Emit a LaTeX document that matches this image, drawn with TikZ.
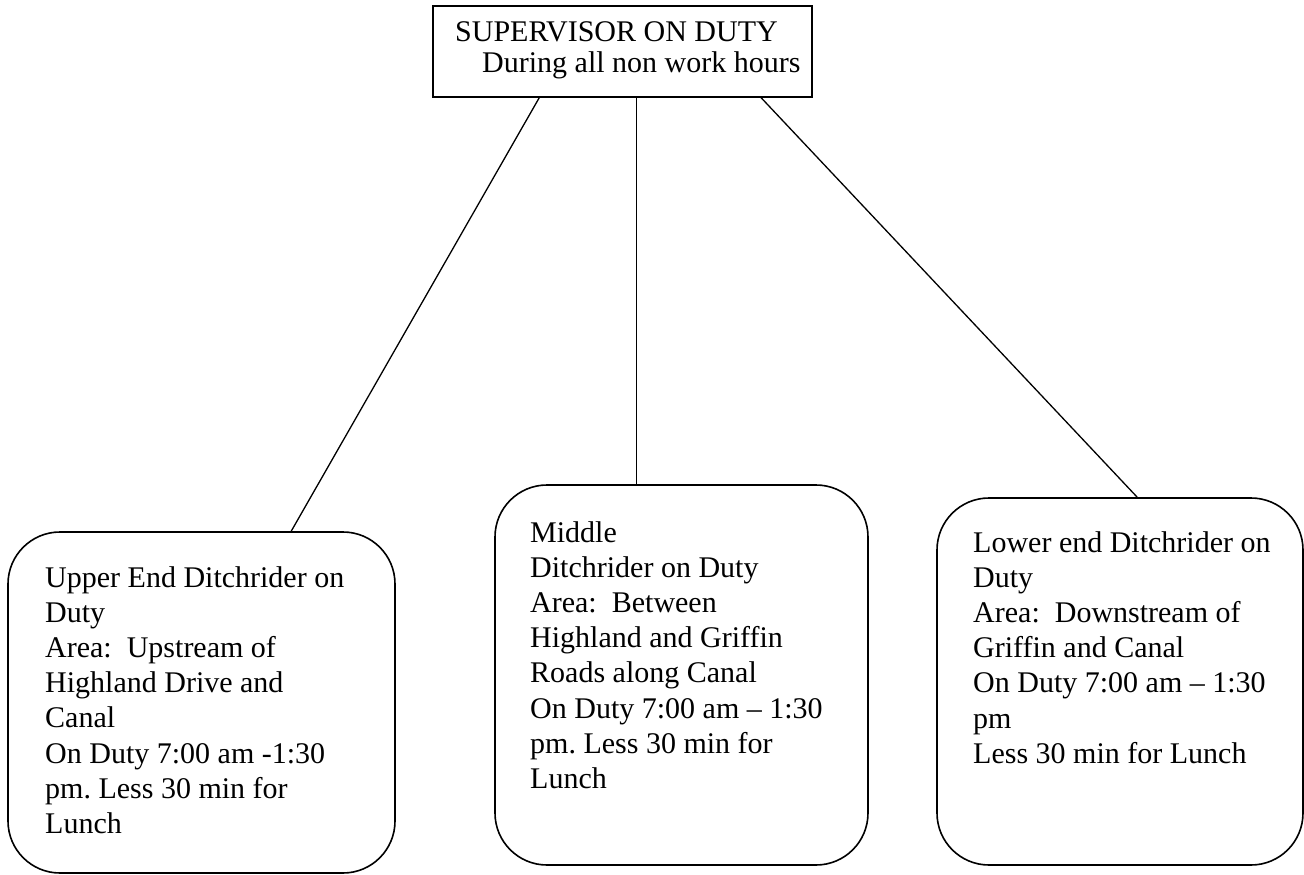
\documentclass[tikz,border=0pt]{standalone}
\usepackage{fontspec}
\setmainfont{Liberation Serif}
\usetikzlibrary{calc}
\frenchspacing
\begin{document}
\begin{tikzpicture}[x=1pt,y=-1pt,
  boxline/.style={draw=black, line width=1.6pt, inner sep=0pt, fill=none},
  roundbox/.style={boxline, rounded corners=52pt},
  conn/.style={draw=black, line width=1.3pt},
  txt/.style={anchor=base west, inner sep=0pt, font=\fontsize{30}{35.2}\selectfont}]
\useasboundingbox (0,0) rectangle (1304,875);
\fill[white] (0,0) rectangle (1304,875);
% boxes
\node[boxline, rectangle, minimum width=379pt, minimum height=91pt] (top) at (622.5,51.5) {};
\node[roundbox, rectangle, minimum width=387pt, minimum height=341pt] (left) at (201.5,702.5) {};
\node[roundbox, rectangle, minimum width=373pt, minimum height=380pt] (mid) at (681.5,675) {};
\node[roundbox, rectangle, minimum width=366pt, minimum height=367pt] (right) at (1120,681.5) {};
% texts
\node[txt, font=\fontsize{30}{31}\selectfont] (toptxt) at (455,42) {\begin{tabular}[t]{@{}l@{}}SUPERVISOR ON DUTY\\\hspace{27pt}During all non work hours\end{tabular}};
\node[txt] (lefttxt) at (45,587) {\begin{tabular}[t]{@{}l@{}}Upper End Ditchrider on\\Duty\\Area:\ \ Upstream of\\Highland Drive and\\Canal\\On Duty 7:00 am -1:30\\pm. Less 30 min for\\Lunch\end{tabular}};
\node[txt] (midtxt) at (530,542) {\begin{tabular}[t]{@{}l@{}}Middle\\Ditchrider on Duty\\Area:\ \ Between\\Highland and Griffin\\Roads along Canal\\On Duty 7:00 am – 1:30\\pm. Less 30 min for\\Lunch\end{tabular}};
\node[txt] (righttxt) at (973,552) {\begin{tabular}[t]{@{}l@{}}Lower end Ditchrider on\\Duty\\Area:\ \ Downstream of\\Griffin and Canal\\On Duty 7:00 am – 1:30\\pm\\Less 30 min for Lunch\end{tabular}};
% connectors
\draw[conn] ($(top.south west)+(107,0)$) -- ($(left.north west)+(284,0)$);
\draw[conn] ($(top.south west)+(204,0)$) -- ($(mid.north west)+(142,0)$);
\draw[conn] ($(top.south west)+(329,0)$) -- ($(right.north west)+(201,0)$);
\end{tikzpicture}
\end{document}
